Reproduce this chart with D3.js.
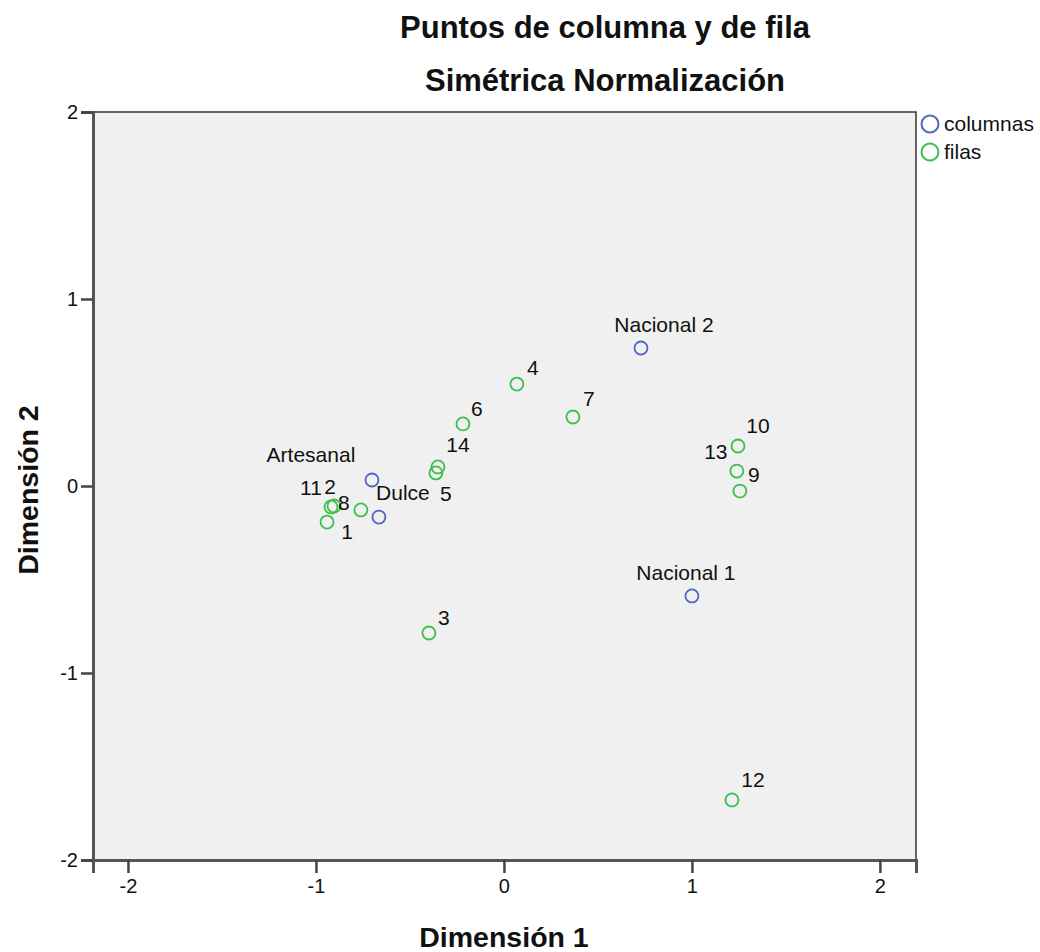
<!DOCTYPE html>
<html>
<head>
<meta charset="utf-8">
<script src="https://cdn.jsdelivr.net/npm/d3@7"></script>
<style>
  body { margin: 0; background: #ffffff; }
  text { font-family: "Liberation Sans", Arial, sans-serif; fill: #111; }
</style>
</head>
<body>
<div id="chart"></div>
<script>
// column points (blue)
var colNames = ["Nacional 1", "Nacional 2", "Artesanal", "Dulce"];
var colDim1 = [1.00, 0.729, -0.702, -0.665];
var colDim2 = [-0.588, 0.738, 0.032, -0.166];

// row points (green)
var rowNames = ["1", "2", "3", "4", "5", "6", "7", "8", "9", "10", "11", "12", "13", "14"];
var rowDim1 = [-0.941, -0.904, -0.399, 0.069, -0.362, -0.218, 0.367, -0.761, 1.255, 1.245, -0.920, 1.213, 1.239, -0.351];
var rowDim2 = [-0.193, -0.107, -0.786, 0.545, 0.070, 0.332, 0.369, -0.128, -0.027, 0.214, -0.112, -1.679, 0.080, 0.102];

var tickValues = [-2, -1, 0, 1, 2];
var legendLabels = ["columnas", "filas"];

var svgWidth = 1040;
var svgHeight = 952;

var colColor = "#4f66c4";
var rowColor = "#3dbf4e";

// label placement (offset from point, in px), like SPSS does to dodge overlaps
var labelOffset = {
  "Nacional 1": [-6, -23], "Nacional 2": [23, -23], "Artesanal": [-61, -25], "Dulce": [24, -24],
  "1": [20, 10], "2": [-4, -19], "3": [15, -15], "4": [16, -16], "5": [10, 21], "6": [14, -15],
  "7": [16, -18], "8": [-17, -7], "9": [14, -16], "10": [20, -20], "11": [-20, -19],
  "12": [21, -20], "13": [-21, -19], "14": [20, -22]
};

var svg = d3.select("#chart")
  .append("svg")
  .attr("width", svgWidth)
  .attr("height", svgHeight);

var x = d3.scaleLinear()
  .domain([-2.186, 2.192])
  .range([93, 916]);

var y = d3.scaleLinear()
  .domain([-2, 2])
  .range([860, 112]);

// plot background
svg.append("rect")
  .attr("x", x.range()[0])
  .attr("y", y.range()[1])
  .attr("width", x.range()[1] - x.range()[0])
  .attr("height", y.range()[0] - y.range()[1])
  .attr("fill", "#f0f0f0")
  .attr("stroke", "#333")
  .attr("stroke-width", 1.5);

// axes
var bottomAxis = d3.axisBottom(x).tickValues(tickValues).tickSize(13).tickPadding(6).tickFormat(d3.format("d"));
var leftAxis = d3.axisLeft(y).tickValues(tickValues).tickSize(12).tickPadding(3).tickFormat(d3.format("d"));

var gx = svg.append("g")
  .attr("transform", "translate(0," + y.range()[0] + ")")
  .call(bottomAxis);

var gy = svg.append("g")
  .attr("transform", "translate(" + x.range()[0] + ",0)")
  .call(leftAxis);

[gx, gy].forEach(function(g) {
  g.select(".domain").attr("stroke", "#555").attr("stroke-width", 3);
  g.selectAll(".tick line").attr("stroke", "#444").attr("stroke-width", 2.5);
  g.selectAll(".tick text")
    .style("font-family", "Liberation Sans, Arial, sans-serif")
    .style("font-size", "20px")
    .attr("fill", "#222");
});
// d3 uses a unicode minus; SPSS shows a plain hyphen
gx.selectAll(".tick text").text(function(d) { return String(d); });
gy.selectAll(".tick text").text(function(d) { return String(d); });

// points
function drawSeries(names, d1, d2, color) {
  var data = names.map(function(n, i) { return { name: n, a: d1[i], b: d2[i] }; });
  svg.append("g").selectAll("circle")
    .data(data)
    .enter()
    .append("circle")
    .attr("cx", function(d) { return x(d.a); })
    .attr("cy", function(d) { return y(d.b); })
    .attr("r", 6.5)
    .attr("fill", "none")
    .attr("stroke", color)
    .attr("stroke-width", 1.8);

  svg.append("g").selectAll("text")
    .data(data)
    .enter()
    .append("text")
    .attr("x", function(d) { return x(d.a) + labelOffset[d.name][0]; })
    .attr("y", function(d) { return y(d.b) + labelOffset[d.name][1]; })
    .attr("dy", "0.35em")
    .attr("text-anchor", "middle")
    .style("font-size", "21px")
    .text(function(d) { return d.name; });
}

drawSeries(rowNames, rowDim1, rowDim2, rowColor);
drawSeries(colNames, colDim1, colDim2, colColor);

// titles
svg.append("text")
  .attr("x", 605).attr("y", 38)
  .attr("text-anchor", "middle")
  .style("font-size", "31px").style("font-weight", "bold")
  .text("Puntos de columna y de fila");

svg.append("text")
  .attr("x", 605).attr("y", 91)
  .attr("text-anchor", "middle")
  .style("font-size", "31px").style("font-weight", "bold")
  .text("Simétrica Normalización");

// axis labels
svg.append("text")
  .attr("x", 504).attr("y", 947)
  .attr("text-anchor", "middle")
  .style("font-size", "28.5px").style("font-weight", "bold")
  .text("Dimensión 1");

svg.append("text")
  .attr("transform", "translate(38,490) rotate(-90)")
  .attr("text-anchor", "middle")
  .style("font-size", "28.5px").style("font-weight", "bold")
  .text("Dimensión 2");

// legend
var legendColors = [colColor, rowColor];
var legend = svg.append("g");
legendLabels.forEach(function(lbl, i) {
  legend.append("circle")
    .attr("cx", 930).attr("cy", 124 + i * 28)
    .attr("r", 8.5)
    .attr("fill", "none")
    .attr("stroke", legendColors[i])
    .attr("stroke-width", 2);
  legend.append("text")
    .attr("x", 944).attr("y", 124 + i * 28)
    .attr("dy", "0.35em")
    .style("font-size", "21px")
    .text(lbl);
});
</script>
</body>
</html>
